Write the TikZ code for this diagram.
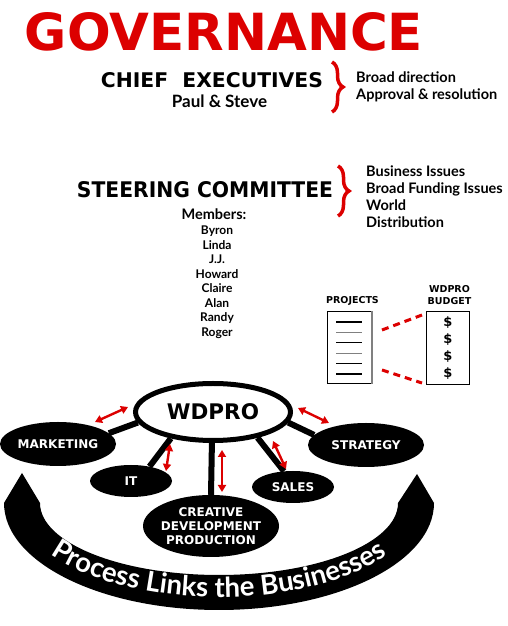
\documentclass[tikz,border=0pt]{standalone}
\usepackage{fontspec}
\usepackage{graphicx}
\setmainfont{Lato}
\newfontfamily\headfont{DejaVu Sans}
\usetikzlibrary{arrows.meta,backgrounds,decorations.pathreplacing,decorations.text,shapes.geometric}
\definecolor{govred}{RGB}{220,0,0}

\tikzset{
  heading/.style={font=\headfont\bfseries, inner sep=0pt},
  note/.style={font=\bfseries\fontsize{14.5}{16}\selectfont, anchor=base west, inner sep=0pt},
  member/.style={font=\bfseries\fontsize{12}{14}\selectfont, anchor=base, inner sep=0pt},
  tag/.style={font=\headfont\bfseries\fontsize{9.5}{10}\selectfont, inner sep=0pt},
  unit/.style={ellipse, fill=black, inner sep=0pt},
  unitname/.style={text=white, font=\headfont\bfseries\fontsize{12}{14}\selectfont, align=center, inner sep=0pt},
  link/.style={line width=6pt},
  biarrow/.style={govred, line width=2.4pt, {Triangle[length=7pt,width=8pt]}-{Triangle[length=7pt,width=8pt]}},
  redbrace/.style={govred, line width=3.5pt, decorate, decoration={brace, amplitude=11pt}},
  budgetlink/.style={govred, line width=3pt, dash pattern=on 7pt off 5pt},
}

\begin{document}
\begin{tikzpicture}[x=1pt, y=1pt]
\useasboundingbox (0,0) rectangle (507,626);

% Titles
\node[heading, text=govred] (title) at (224,594) {\resizebox{398pt}{38pt}{GOVERNANCE}};
\node[heading] (chiefs) at (212,545.5) {\resizebox{222pt}{15pt}{CHIEF\ \ EXECUTIVES}};
\node[member, font=\bfseries\fontsize{17}{18}\selectfont] (ceos) at (219.5,518) {Paul \& Steve};
\draw[redbrace] (332,564) -- (332,514);
\node[note] (direction) at (356,543) {Broad direction};
\node[note] (approval) at (356,526) {Approval \& resolution};

% Steering committee
\node[heading] (steer) at (205,436) {\resizebox{256pt}{16pt}{STEERING COMMITTEE}};
\draw[redbrace] (338,460) -- (338,410);
\foreach \txt [count=\i] in {Business Issues, Broad Funding Issues, World, Distribution}
  \node[note] (issue\i) at (366,{449-17*(\i-1)}) {\txt};
\node[member, font=\bfseries\fontsize{14.5}{16}\selectfont] (members) at (214,406) {Members:};
\foreach \who [count=\i] in {Byron,Linda,J.J.,Howard,Claire,Alan,Randy,Roger}
  \node[member] (member\i) at (217,{391-14.43*(\i-1)}) {\who};

% Projects and budget
\node[tag] (projects) at (352.5,325) {PROJECTS};
\node[tag] (budgetname) at (449.5,337) {WDPRO};
\node[tag] (budget) at (449.5,325) {BUDGET};
\node[draw, line width=1pt, minimum width=44pt, minimum height=72pt, inner sep=0pt] (projbox) at (349,278) {};
\draw[gray, line width=2pt] (projbox.north east) -- (projbox.south east);
\foreach \k/\shade in {0/black,1/gray,2/black,3/gray,4/black,5/black}
  \draw[line width=1.2pt, \shade] (336,{304-10.4*\k}) -- (362,{304-10.4*\k});
\node[draw, line width=1pt, minimum width=43pt, minimum height=73pt, inner sep=0pt] (budbox) at (447.5,277.5) {};
\foreach \k in {0,...,3}
  \node[heading, font=\headfont\bfseries\fontsize{13}{13}\selectfont] (dollar\k) at (448,{303-16.7*\k}) {\$};
\coordinate (pj1) at (382,296);
\coordinate (bd1) at (422,311);
\coordinate (pj2) at (382,256);
\coordinate (bd2) at (422,243);
\draw[budgetlink] (pj1) -- (bd1);
\draw[budgetlink] (pj2) -- (bd2);

% Business units
\node[ellipse, draw, fill=white, line width=5pt, minimum width=155pt, minimum height=57pt, inner sep=0pt,
      font=\headfont\bfseries\fontsize{21.5}{22}\selectfont] (hub) at (213,214) {WDPRO};
\node[unit, minimum width=116pt, minimum height=44pt, label={[unitname]center:MARKETING}] (mkt) at (58,182) {};
\node[unit, minimum width=116pt, minimum height=44pt, label={[unitname]center:STRATEGY}] (strat) at (366,181) {};
\node[unit, minimum width=82pt, minimum height=32pt, label={[unitname]center:IT}] (it) at (131,145) {};
\node[unit, minimum width=82pt, minimum height=32pt, label={[unitname]center:SALES}] (sales) at (293,139) {};
\node[unit, minimum width=136pt, minimum height=62pt,
      label={[unitname]center:CREATIVE\\DEVELOPMENT\\PRODUCTION}] (cdp) at (211,100) {};

\begin{scope}[on background layer]
\draw[link] (hub.188) -- (mkt.12);
\draw[link] (hub.212) -- (it.38);
\draw[link] (hub.268) -- (cdp.90);
\draw[link] (hub.-30) -- (sales.120);
\draw[link] (hub.-8) -- (strat.169);
\end{scope}

% Red arrows
\coordinate (a1) at (95,204);  \coordinate (b1) at (128,219);
\coordinate (a2) at (298,218); \coordinate (b2) at (329,203);
\coordinate (a3) at (170,182); \coordinate (b3) at (166,155);
\coordinate (a4) at (222,176); \coordinate (b4) at (222,134);
\coordinate (a5) at (273,185); \coordinate (b5) at (286,157);
\foreach \i in {1,...,5}
  \draw[biarrow] (a\i) -- (b\i);

% Process arc
\fill (22,153) -- (4,123) arc[start angle=180, end angle=360, x radius=215, y radius=107]
  -- (417,152) -- (398,123) arc[start angle=0, end angle=-180, x radius=179, y radius=72] -- cycle;
\path[decorate, decoration={text along path, text align=center,
  text={|\bfseries\fontsize{27.5}{28}\selectfont\color{white}|Process Links the Businesses}}]
  (17,123) arc[start angle=180, end angle=360, x radius=202, y radius=94];
\end{tikzpicture}
\end{document}
